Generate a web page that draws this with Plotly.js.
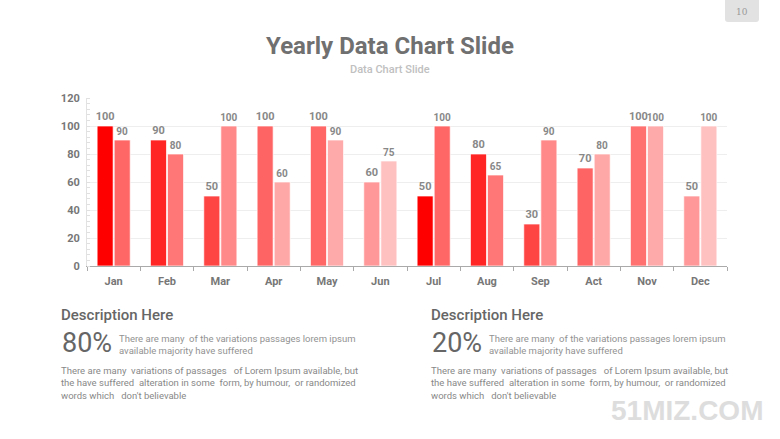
<!DOCTYPE html>
<html>
<head>
<meta charset="utf-8">
<script src="https://cdn.plot.ly/plotly-3.0.1.min.js"></script>
<style>html,body{margin:0;padding:0;background:#fff;}#chart{width:780px;height:439px;}</style>
</head>
<body>
<div id="chart"></div>
<script>
const months = ['Jan','Feb','Mar','Apr','May','Jun','Jul','Aug','Sep','Act','Nov','Dec'];
const series1 = [100,90,50,100,100,60,50,80,30,70,100,50];
const series2 = [90,80,100,60,90,75,100,65,90,80,100,100];
const colors1 = ['#ff0000','#ff2525','#ff4444','#ff6464','#ff6666','#ff9898','#ff0000','#ff2525','#ff4444','#ff6464','#ff7070','#ff9898'];
const colors2 = ['#ff6666','#ff7777','#ff8888','#ffa8a8','#ffaaaa','#ffc0c0','#ff6666','#ff7777','#ff8888','#ffa8a8','#ffaaaa','#ffc0c0'];
const yTicks = [0,20,40,60,80,100,120];

const pageTitle = 'Yearly Data Chart Slide';
const pageSubtitle = 'Data Chart Slide';
const pageNumber = '10';
const descHeading = 'Description Here';
const descPercents = ['80%','20%'];
const descLead = 'There are many  of the variations passages lorem ipsum<br>available majority have suffered';
const descBody = 'There are many  variations of passages   of Lorem Ipsum available, but<br>the have suffered  alteration in some  form, by humour,  or randomized<br>words which   don\'t believable';
const watermark = '51MIZ.COM';

// pixel -> paper helpers (plot area: x 87..727, y 98..266)
const L = 87, R = 727, T = 98, B = 266;
const px = x => (x - L) / (R - L);
const py = y => (B - y) / (B - T);

const FONT = 'Roboto, "Open Sans", sans-serif';

const trace1 = {
  type: 'bar', x: months, y: series1,
  marker: {color: colors1, line: {color: 'rgba(255,255,255,0.7)', width: 1}},
  text: series1.map(String), textposition: 'outside', cliponaxis: false,
  constraintext: 'none',
  textfont: {family: FONT, size: 11, color: '#888', weight: 700},
  hoverinfo: 'skip'
};
const trace2 = {
  type: 'bar', x: months, y: series2,
  marker: {color: colors2, line: {color: 'rgba(255,255,255,0.7)', width: 1}},
  text: series2.map(String), textposition: 'outside', cliponaxis: false,
  constraintext: 'none',
  textfont: {family: FONT, size: 10, color: '#888', weight: 700},
  hoverinfo: 'skip'
};

const ann = [];
ann.push({text: pageSubtitle, x: px(390), y: py(70), xref: 'paper', yref: 'paper', showarrow: false,
  font: {family: FONT, size: 11, color: '#c0c0c0', weight: 500}, xanchor: 'center', yanchor: 'middle'});
ann.push({text: pageNumber, x: px(742), y: py(12), xref: 'paper', yref: 'paper', showarrow: false,
  font: {family: '"DejaVu Serif", serif', size: 9, color: '#999'}, xanchor: 'center', yanchor: 'middle'});
const cols = [59, 429];
cols.forEach((cx, i) => {
  ann.push({text: descHeading, x: px(cx), y: py(315), xref: 'paper', yref: 'paper', showarrow: false,
    font: {family: FONT, size: 15, color: '#666666', weight: 500}, xanchor: 'left', yanchor: 'middle'});
  ann.push({text: descPercents[i], x: px(cx + 1), y: py(343), xref: 'paper', yref: 'paper', showarrow: false,
    font: {family: FONT, size: 27, color: '#666666'}, xanchor: 'left', yanchor: 'middle'});
  ann.push({text: descLead, x: px(cx + 58), y: py(344), xref: 'paper', yref: 'paper', showarrow: false, align: 'left',
    font: {family: FONT, size: 9.5, color: '#929292'}, xanchor: 'left', yanchor: 'middle'});
  ann.push({text: descBody, x: px(cx), y: py(383), xref: 'paper', yref: 'paper', showarrow: false, align: 'left',
    font: {family: FONT, size: 9.5, color: '#888888'}, xanchor: 'left', yanchor: 'middle'});
});
ann.push({text: watermark, x: px(687), y: py(410), xref: 'paper', yref: 'paper', showarrow: false,
  font: {family: '"Liberation Sans", Arial, sans-serif', size: 28, color: '#dddddd', weight: 700}, xanchor: 'center', yanchor: 'middle'});

const layout = {
  width: 780, height: 439,
  margin: {l: L, r: 780 - R, t: T, b: 439 - B, pad: 0},
  paper_bgcolor: '#ffffff', plot_bgcolor: '#ffffff',
  showlegend: false,
  barmode: 'group', bargap: 0.36, bargroupgap: 0.06,
  font: {family: FONT},
  title: {text: pageTitle, x: 0.5, xref: 'container', xanchor: 'center', y: 1 - 46 / 439, yref: 'container', yanchor: 'middle',
    font: {family: FONT, size: 24, color: '#707070', weight: 700}},
  xaxis: {
    type: 'category', showline: true, linecolor: '#aaaaaa', linewidth: 1.2,
    ticks: 'outside', tickson: 'boundaries', ticklen: 4, tickcolor: '#aaaaaa', tickwidth: 1,
    ticklabelstandoff: 5,
    showgrid: false, zeroline: false,
    tickfont: {family: FONT, size: 11, color: '#777', weight: 700}
  },
  yaxis: {
    range: [0, 120], tickvals: yTicks, ticktext: yTicks.map(String),
    showgrid: true, gridcolor: '#eeeeee', gridwidth: 1,
    showline: true, linecolor: '#e2e2e2', linewidth: 1, zeroline: false,
    ticks: '', ticklabelstandoff: 4,
    minor: {dtick: 4, ticks: 'inside', ticklen: 3, tickcolor: '#e0e0e0', showgrid: false},
    tickfont: {family: FONT, size: 11, color: '#777', weight: 700}
  },
  shapes: [
    {type: 'path', xref: 'paper', yref: 'paper',
      path: 'M ' + px(725) + ' ' + py(-2) + ' L ' + px(759) + ' ' + py(-2) + ' L ' + px(759) + ' ' + py(19) +
            ' Q ' + px(759) + ' ' + py(22) + ' ' + px(756) + ' ' + py(22) +
            ' L ' + px(728) + ' ' + py(22) + ' Q ' + px(725) + ' ' + py(22) + ' ' + px(725) + ' ' + py(19) + ' Z',
      fillcolor: '#e2e2e2', line: {width: 0}, layer: 'below'}
  ],
  annotations: ann
};

Plotly.newPlot('chart', [trace1, trace2], layout, {displayModeBar: false, staticPlot: true});
</script>
</body>
</html>
